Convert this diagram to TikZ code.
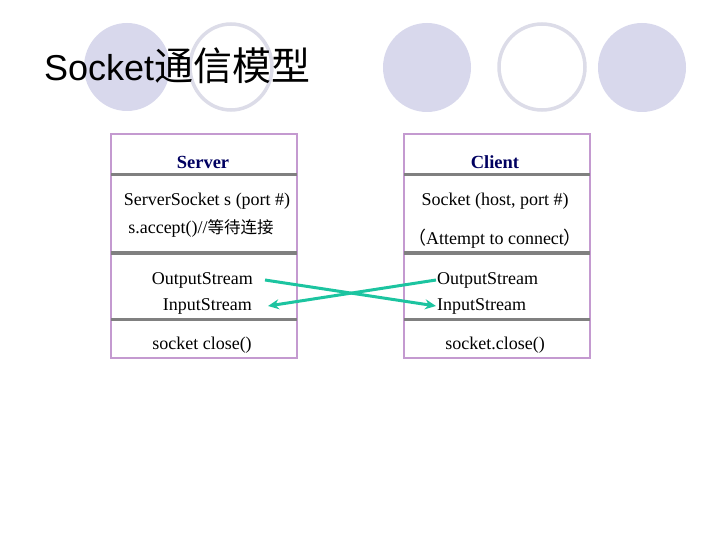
\documentclass[tikz,border=0pt]{standalone}
\usepackage{fontspec}
\setmainfont{Liberation Serif}
\newfontfamily\titlefont{Liberation Sans}
\newfontfamily\cjk{Noto Sans CJK SC}
\usetikzlibrary{arrows.meta}
\definecolor{circfill}{HTML}{D8D8EC}
\definecolor{circline}{HTML}{DCDCE8}
\definecolor{boxline}{HTML}{C49AD0}
\definecolor{sepline}{HTML}{808080}
\definecolor{arrcol}{HTML}{1CC4A0}
\definecolor{navy}{HTML}{000060}
\tikzset{
  fcirc/.style={fill=circfill,draw=none},
  ocirc/.style={draw=circline,line width=3.5pt,fill=white},
  boxframe/.style={draw=boxline,line width=2.5pt},
  sep/.style={draw=sepline,line width=2.5pt},
  txt/.style={font=\fontsize{18}{20}\selectfont,inner sep=0pt},
  head/.style={font=\fontsize{18.5}{20}\selectfont\bfseries,text=navy,inner sep=0pt},
  conn/.style={draw=arrcol,line width=3pt,-{Stealth[length=11pt,width=10pt]}}
}
\begin{document}
\begin{tikzpicture}[x=1pt,y=-1pt]
\useasboundingbox (0,0) rectangle (720,540);
% decorative circles
\fill[fcirc] (127,67) ellipse [x radius=43,y radius=44];
\draw[ocirc] (231,67) ellipse [x radius=41,y radius=43];
\fill[fcirc] (427,67.5) ellipse [x radius=44,y radius=44.5];
\draw[ocirc] (542,67) ellipse [x radius=43,y radius=43];
\fill[fcirc] (642,67.5) ellipse [x radius=44,y radius=44.5];
% title
\node[anchor=base west,inner sep=0pt] (title) at (44,81) {\fontsize{36}{40}\selectfont\titlefont Socket\cjk\fontsize{39}{40}\selectfont 通信模型};
% server box
\draw[boxframe] (111,134) rectangle (297,358);
\draw[sep] (111,174.5) -- (297,174.5);
\draw[sep,line width=3.5pt] (111,253) -- (297,253);
\draw[sep] (111,319.5) -- (297,319.5);
% client box
\draw[boxframe] (404,134) rectangle (590,358);
\draw[sep] (404,174.5) -- (590,174.5);
\draw[sep,line width=3.5pt] (404,253) -- (590,253);
\draw[sep] (404,319.5) -- (590,319.5);
% server texts
\node[head] (shead) at (203,162) {Server};
\node[txt] (ss) at (207,201) {ServerSocket s (port \#)};
\node[txt] (sacc) at (201,228) {s.accept()//{\cjk\fontsize{16.5}{20}\selectfont 等待连接}};
\node[txt,anchor=east] (sout) at (253,280) {OutputStream};
\node[txt,anchor=east] (sin) at (252,306) {InputStream};
\node[txt] (sclose) at (202,345) {socket close()};
% client texts
\node[head] (chead) at (495,162) {Client};
\node[txt] (cs) at (495,201) {Socket (host, port \#)};
\node[txt] (catt) at (495,239) {{\cjk（}Attempt to connect{\cjk）}};
\node[txt,anchor=west] (cout) at (437,280) {OutputStream};
\node[txt,anchor=west] (cin) at (437,306) {InputStream};
\node[txt] (cclose) at (495,345) {socket.close()};
% connectors
\draw[conn] ([xshift=12pt]sout.east) -- ([xshift=-1pt]cin.west);
\draw[conn] ([xshift=-1pt]cout.west) -- ([xshift=16pt]sin.east);
\end{tikzpicture}
\end{document}
